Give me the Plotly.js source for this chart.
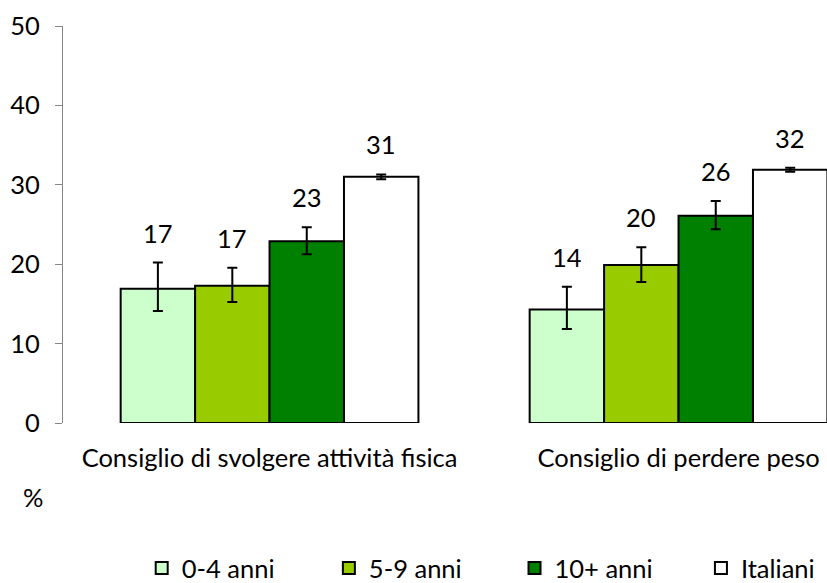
<!DOCTYPE html>
<html>
<head>
<meta charset="utf-8">
<script src="https://cdn.plot.ly/plotly-3.0.1.min.js"></script>
<style>html,body{margin:0;padding:0;overflow:hidden;background:#fff;}</style>
</head>
<body>
<div id="chart" style="width:827px;height:600px;"></div>
<script>
const categories = ["Consiglio di svolgere attività fisica", "Consiglio di perdere peso"];
const seriesNames = ["0-4 anni", "5-9 anni", "10+ anni", "Italiani"];
const seriesColors = ["#CCFFCC", "#99CC00", "#008000", "#FFFFFF"];
const v04 = [16.9, 14.3];
const v59 = [17.3, 19.9];
const v10 = [22.9, 26.1];
const vIt = [31.0, 31.9];
const e04Plus = [3.3, 2.85];
const e04Minus = [2.8, 2.45];
const e59Plus = [2.25, 2.25];
const e59Minus = [2.05, 2.15];
const e10Plus = [1.75, 1.85];
const e10Minus = [1.65, 1.7];
const eItPlus = [0.3, 0.25];
const eItMinus = [0.3, 0.25];
const l04 = ["17", "14"];
const l59 = ["17", "20"];
const l10 = ["23", "26"];
const lIt = ["31", "32"];

const values = [v04, v59, v10, vIt];
const ePlus = [e04Plus, e59Plus, e10Plus, eItPlus];
const eMinus = [e04Minus, e59Minus, e10Minus, eItMinus];
const labels = [l04, l59, l10, lIt];

const FONT = "Lato, 'Open Sans', sans-serif";
const FS = 25.5;
const bargap = 0.272;
const nSeries = seriesNames.length;
const barW = (1 - bargap) / nSeries;
const legendIds = ["legend", "legend2", "legend3", "legend4"];
const legendX = [0.103, 0.348, 0.591, 0.835];

const traces = seriesNames.map((name, s) => ({
  type: "bar",
  name: name,
  legend: legendIds[s],
  x: categories,
  y: values[s],
  marker: {color: seriesColors[s], line: {color: "#000000", width: 2}},
  error_y: {
    type: "data", symmetric: false,
    array: ePlus[s], arrayminus: eMinus[s],
    color: "#000000", thickness: 2, width: 5
  },
  hoverinfo: "skip"
}));

const annotations = [];
seriesNames.forEach((name, s) => {
  categories.forEach((c, i) => {
    annotations.push({
      xref: "x", yref: "y",
      x: i + (s - (nSeries - 1) / 2) * barW,
      y: values[s][i] + ePlus[s][i],
      text: labels[s][i],
      showarrow: false,
      yanchor: "bottom",
      yshift: 13,
      font: {family: FONT, size: FS, color: "#000"}
    });
  });
});
annotations.push({
  xref: "paper", yref: "paper",
  x: -0.039, y: -0.187,
  text: "%", showarrow: false,
  xanchor: "center", yanchor: "middle",
  font: {family: FONT, size: FS, color: "#000"}
});

const layout = {
  width: 827, height: 600,
  margin: {l: 63, r: 0, t: 26, b: 177, pad: 0},
  paper_bgcolor: "#ffffff", plot_bgcolor: "#ffffff",
  font: {family: FONT, size: FS, color: "#000"},
  barmode: "group",
  bargap: bargap,
  bargroupgap: 0,
  showlegend: true,
  xaxis: {
    type: "category",
    range: [-0.505, 1.363],
    showline: false, showgrid: false, zeroline: false,
    ticks: "", ticklabelstandoff: 17,
    tickfont: {family: FONT, size: FS, color: "#000"}
  },
  yaxis: {
    range: [0, 50], dtick: 10, tick0: 0,
    showline: true, linecolor: "#868686", linewidth: 1,
    ticks: "outside", ticklen: 7, tickcolor: "#868686", tickwidth: 1,
    showgrid: false, zeroline: false,
    ticklabelstandoff: 10,
    tickfont: {family: FONT, size: FS, color: "#000"}
  },
  annotations: annotations
};
legendIds.forEach((id, s) => {
  layout[id] = {
    orientation: "h",
    xref: "paper", yref: "paper",
    x: legendX[s], y: -0.366,
    xanchor: "left", yanchor: "middle",
    itemwidth: 30,
    font: {family: FONT, size: FS, color: "#000"}
  };
});

Plotly.newPlot("chart", traces, layout, {displayModeBar: false, staticPlot: true});
</script>
</body>
</html>
